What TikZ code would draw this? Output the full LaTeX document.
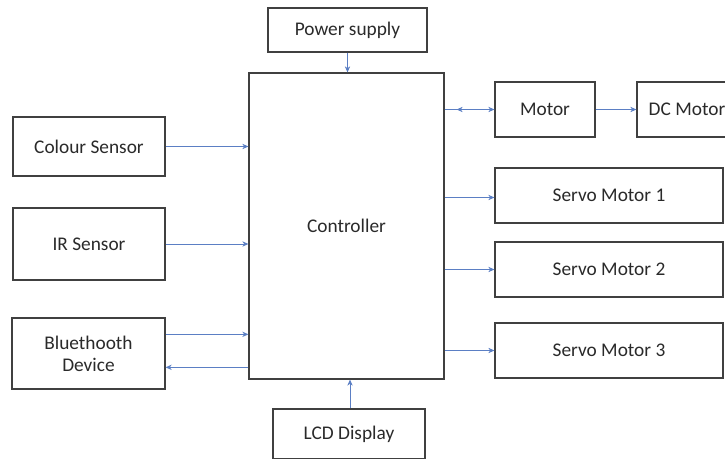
\documentclass[tikz,border=0pt]{standalone}
\usepackage{fontspec}
\setmainfont{Carlito}
\usetikzlibrary{fit,arrows.meta}
\definecolor{edge}{HTML}{404040}
\definecolor{ink}{HTML}{2A2A2A}
\definecolor{wire}{HTML}{5B7FC4}
\begin{document}
\begin{tikzpicture}[x=0.75pt,y=-0.75pt,
  blk/.style={draw=edge,line width=1pt,inner sep=0pt},
  lbl/.style={text=ink,align=center,font=\fontsize{14.5}{17.5}\selectfont},
  wireline/.style={draw=wire,line width=0.5pt},
  link/.style={wireline,-{Stealth[length=4.5pt,width=4pt]}}]
\clip (0,0) rectangle (725,459);
\useasboundingbox (0,0) rectangle (725,459);
\fill[white] (0,0) rectangle (725,459);

% blocks
\node[blk,fit={(268,8) (427,52)}] (psu) {};
\node[lbl] at (psu.center) {Power supply};
\node[blk,fit={(249,73) (444,379)}] (ctrl) {};
\node[lbl] at (ctrl.center) {Controller};
\node[blk,fit={(13,117) (165,176)}] (colour) {};
\node[lbl] at (colour.center) {Colour Sensor};
\node[blk,fit={(13,208) (165,280)}] (ir) {};
\node[lbl] at (ir.center) {IR Sensor};
\node[blk,fit={(12,318) (165,389)}] (bt) {};
\node[lbl,font=\fontsize{14.5}{16.5}\selectfont] at (bt.center) {Bluethooth\\Device};
\node[blk,fit={(273,409) (425,459)}] (lcd) {};
\node[lbl] at (lcd.center) {LCD Display};
\node[blk,fit={(495,82) (595,137)}] (motor) {};
\node[lbl] at (motor.center) {Motor};
\node[blk,fit={(637,82) (737,137)}] (dc) {};
\node[lbl] at (dc.center) {DC Motor};
\node[blk,fit={(495,168) (723,223)}] (s1) {};
\node[lbl] at (s1.center) {Servo Motor 1};
\node[blk,fit={(495,242) (723,297)}] (s2) {};
\node[lbl] at (s2.center) {Servo Motor 2};
\node[blk,fit={(495,323) (723,378)}] (s3) {};
\node[lbl] at (s3.center) {Servo Motor 3};

% connectors
\draw[link] (psu.south) -- (psu.south |- ctrl.north);
\draw[link] (colour.east) -- (colour.east -| ctrl.west);
\draw[link] (ir.east) -- (ir.east -| ctrl.west);
\draw[link] ([yshift=-17*0.75pt]bt.north east) -- ([yshift=-17*0.75pt]bt.north east -| ctrl.west);
\draw[link] ([yshift=-50*0.75pt]ctrl.west |- bt.north) -- ([yshift=-50*0.75pt]bt.north east);
\draw[link] ([xshift=0.75pt]lcd.north) -- ([xshift=0.75pt]lcd.north |- ctrl.south);
% two-way link between controller and motor
\coordinate (mjoin) at (ctrl.east |- motor.west);
\draw[link] (mjoin) -- (motor.west);
\draw[link,shorten >=9pt] (motor.west) -- (mjoin);
\draw[link] (motor.east) -- (dc.west);
\draw[link] ([yshift=-2*0.75pt]s1.west -| ctrl.east) -- ([yshift=-2*0.75pt]s1.west);
\draw[link] (s2.west -| ctrl.east) -- (s2.west);
\draw[link] (s3.west -| ctrl.east) -- (s3.west);
\end{tikzpicture}
\end{document}
